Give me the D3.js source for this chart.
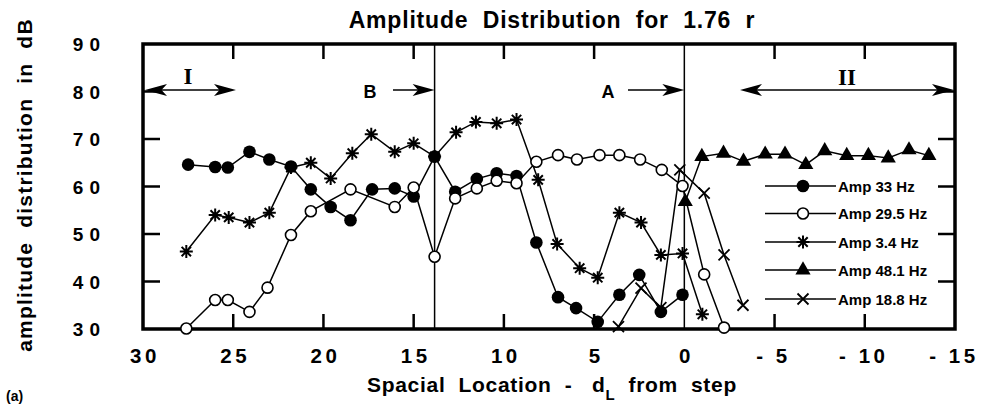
<!DOCTYPE html>
<html>
<head>
<meta charset="utf-8">
<title>Amplitude Distribution</title>
<script src="https://cdn.jsdelivr.net/npm/d3@7"></script>
<style>
    body{
        margin:0;
        background:#fff;
        font-family:"Liberation Sans", Arial, Helvetica, sans-serif;
    }
    text{
        white-space:pre;
    }
</style>
</head>
<body>
<div id="chart"></div>
<script>
// axis ticks
var xTicks = [30, 25, 20, 15, 10, 5, 0, -5, -10, -15]
var yTicks = [30, 40, 50, 60, 70, 80, 90]

// Amp 33 Hz (filled circles)
var d33 = [27.5, 26.0, 25.3, 24.1, 23.0, 21.8, 20.7, 19.6, 18.5, 17.3, 16.05, 15.0, 13.84, 12.7, 11.5, 10.4, 9.3, 8.2, 7.0, 6.0, 4.8, 3.6, 2.5, 1.3, 0.1]
var amp33 = [64.6, 64.1, 64.0, 67.3, 65.7, 64.2, 59.4, 55.7, 52.9, 59.4, 59.6, 57.9, 66.3, 58.9, 61.6, 62.8, 62.2, 48.2, 36.7, 34.4, 31.5, 37.2, 41.4, 33.6, 37.2]

// Amp 29.5 Hz (open circles)
var d29 = [27.6, 26.0, 25.3, 24.1, 23.1, 21.8, 20.7, 18.5, 16.05, 15.0, 13.84, 12.7, 11.5, 10.4, 9.3, 8.2, 7.0, 5.95, 4.7, 3.6, 2.45, 1.25, 0.1, -1.1, -2.2]
var amp29 = [30.1, 36.1, 36.1, 33.6, 38.7, 49.8, 54.8, 59.4, 55.7, 59.8, 45.2, 57.5, 59.6, 61.2, 60.7, 65.2, 66.6, 65.7, 66.6, 66.6, 65.7, 63.5, 60.1, 41.5, 30.3]

// Amp 3.4 Hz (asterisks)
var d3_4 = [27.6, 26.0, 25.25, 24.1, 23.0, 21.8, 20.7, 19.6, 18.4, 17.35, 16.05, 15.0, 13.84, 12.65, 11.55, 10.4, 9.3, 8.1, 7.05, 5.8, 4.8, 3.6, 2.4, 1.3, 0.1, -1.0]
var amp3_4 = [46.3, 54.0, 53.5, 52.4, 54.5, 64.0, 65.0, 61.7, 67.0, 71.0, 67.3, 69.1, 66.3, 71.4, 73.6, 73.3, 74.1, 61.4, 47.9, 42.8, 40.8, 54.5, 52.4, 45.6, 45.9, 33.1]

// Amp 48.1 Hz (triangles)
var d48 = [-0.05, -0.97, -2.17, -3.28, -4.48, -5.58, -6.73, -7.78, -9.0, -10.2, -11.3, -12.45, -13.55]
var amp48 = [56.8, 66.3, 67.0, 65.3, 66.8, 66.8, 64.6, 67.5, 66.5, 66.5, 66.0, 67.7, 66.5]

// Amp 18.8 Hz (crosses)
var d18 = [3.65, 2.4, 1.3, 0.25, -1.1, -2.2, -3.25]
var amp18 = [30.5, 38.6, 34.5, 63.5, 58.6, 45.6, 35.0]

var legendNames = ["Amp 33 Hz", "Amp 29.5 Hz", "Amp 3.4 Hz", "Amp 48.1 Hz", "Amp 18.8 Hz"]

var w = 981
var h = 408
var pLeft = 143, pRight = 955, pTop = 44, pBottom = 329

var svg = d3.select("#chart").append("svg")
    .attr("width", w)
    .attr("height", h)

var xScale = d3.scaleLinear().domain([30, -15]).range([pLeft, pRight])
var yScale = d3.scaleLinear().domain([30, 90]).range([pBottom, pTop])

// title
svg.append("text").text("Amplitude  Distribution  for  1.76  r")
    .attr("x", 552).attr("y", 28)
    .attr("text-anchor", "middle")
    .style("font-size", "23px").style("font-weight", "bold").style("letter-spacing", "0.8px")

// inner ticks (all four sides)
var xInner = xTicks.filter(function(t){ return t != 30 && t != -15 && t != 0 })
var yInner = yTicks.filter(function(t){ return t != 30 && t != 90 })

var tickLen = 15
svg.selectAll(".xtb").data(xInner).enter().append("line")
    .attr("x1", function(d){ return xScale(d) }).attr("x2", function(d){ return xScale(d) })
    .attr("y1", pBottom).attr("y2", pBottom - tickLen)
    .attr("stroke", "#000").attr("stroke-width", 2.5)
svg.selectAll(".xtt").data(xInner).enter().append("line")
    .attr("x1", function(d){ return xScale(d) }).attr("x2", function(d){ return xScale(d) })
    .attr("y1", pTop).attr("y2", pTop + tickLen)
    .attr("stroke", "#000").attr("stroke-width", 2.5)
svg.selectAll(".ytl").data(yInner).enter().append("line")
    .attr("y1", function(d){ return yScale(d) }).attr("y2", function(d){ return yScale(d) })
    .attr("x1", pLeft).attr("x2", pLeft + tickLen + 2)
    .attr("stroke", "#000").attr("stroke-width", 2.5)
svg.selectAll(".ytr").data(yInner).enter().append("line")
    .attr("y1", function(d){ return yScale(d) }).attr("y2", function(d){ return yScale(d) })
    .attr("x1", pRight).attr("x2", pRight - tickLen - 2)
    .attr("stroke", "#000").attr("stroke-width", 2.5)

// vertical marker lines at 13.84 and 0
svg.selectAll(".vline").data([13.84, 0]).enter().append("line")
    .attr("x1", function(d){ return xScale(d) }).attr("x2", function(d){ return xScale(d) })
    .attr("y1", pTop).attr("y2", pBottom)
    .attr("stroke", "#000").attr("stroke-width", 1.5)

// frame
svg.append("rect")
    .attr("x", pLeft).attr("y", pTop)
    .attr("width", pRight - pLeft).attr("height", pBottom - pTop)
    .attr("fill", "none").attr("stroke", "#000").attr("stroke-width", 3.5)

// tick labels
svg.selectAll(".xlab").data(xTicks).enter().append("text")
    .text(function(d){ return d < 0 ? "- " + (-d) : d })
    .attr("x", function(d){ return xScale(d) + (d < 0 ? -1 : 2) })
    .attr("y", 363)
    .attr("text-anchor", "middle")
    .style("font-size", "20.5px").style("font-weight", "bold").style("letter-spacing", "3.5px")

svg.selectAll(".ylab").data(yTicks).enter().append("text")
    .text(function(d){ return d })
    .attr("x", 106)
    .attr("y", function(d){ return yScale(d) + 7 })
    .attr("text-anchor", "end")
    .style("font-size", "19px").style("font-weight", "bold").style("letter-spacing", "6px")

// axis titles
svg.append("text")
    .attr("transform", "translate(32,185) rotate(-90)")
    .attr("text-anchor", "middle")
    .style("font-size", "21px").style("font-weight", "bold").style("letter-spacing", "1.2px")
    .text("amplitude  distribution  in  dB")

var xt = svg.append("text").attr("x", 367).attr("y", 392)
    .style("font-size", "21px").style("font-weight", "bold").style("letter-spacing", "0.7px")
xt.append("tspan").text("Spacial  Location  -   d")
xt.append("tspan").text("L").attr("dy", 8).style("font-size", "15px")
xt.append("tspan").text("  from  step").attr("dy", -8)

svg.append("text").text("(a)").attr("x", 6).attr("y", 401)
    .style("font-size", "14px").style("font-weight", "bold")

// region arrows
function arrowHead(x, y, dir){
    // dir = 1 points right, -1 points left
    var L = 22, H = 6
    return "M" + x + "," + y + "L" + (x - dir * L) + "," + (y - H) + "L" + (x - dir * L * 0.75) + "," + y + "L" + (x - dir * L) + "," + (y + H) + "Z"
}
var arrows = [
    {x1: pLeft + 2, x2: 236, y: 90, both: true},
    {x1: 393, x2: xScale(13.84), y: 90, both: false},
    {x1: 628, x2: xScale(0), y: 90, both: false},
    {x1: 740, x2: pRight - 1, y: 90, both: true}
]
arrows.forEach(function(a){
    svg.append("line").attr("x1", a.both ? a.x1 + 10 : a.x1).attr("x2", a.x2 - 10).attr("y1", a.y).attr("y2", a.y)
        .attr("stroke", "#000").attr("stroke-width", 1.5)
    svg.append("path").attr("d", arrowHead(a.x2, a.y, 1)).attr("fill", "#000")
    if (a.both) {
        svg.append("path").attr("d", arrowHead(a.x1, a.y, -1)).attr("fill", "#000")
    }
})
svg.append("text").text("I").attr("x", 188).attr("y", 84).attr("text-anchor", "middle")
    .style("font-family", "'Liberation Serif', 'Times New Roman', serif").style("font-size", "23px").style("font-weight", "bold")
svg.append("text").text("II").attr("x", 847).attr("y", 85).attr("text-anchor", "middle")
    .style("font-family", "'Liberation Serif', 'Times New Roman', serif").style("font-size", "23px").style("font-weight", "bold")
svg.append("text").text("B").attr("x", 370).attr("y", 98).attr("text-anchor", "middle")
    .style("font-size", "18px").style("font-weight", "bold")
svg.append("text").text("A").attr("x", 608).attr("y", 98).attr("text-anchor", "middle")
    .style("font-size", "18px").style("font-weight", "bold")

// markers
function starPath(s){
    var r = s, q = s * 0.72
    return "M" + (-r) + ",0L" + r + ",0M0," + (-r) + "L0," + r +
        "M" + (-q) + "," + (-q) + "L" + q + "," + q + "M" + (-q) + "," + q + "L" + q + "," + (-q)
}
function crossPath(s){
    return "M" + (-s) + "," + (-s) + "L" + s + "," + s + "M" + (-s) + "," + s + "L" + s + "," + (-s)
}
var triPath = d3.symbol().type(d3.symbolTriangle).size(100)()

var series = [
    {xs: d33, ys: amp33, kind: "filled"},
    {xs: d29, ys: amp29, kind: "open"},
    {xs: d3_4, ys: amp3_4, kind: "star"},
    {xs: d48, ys: amp48, kind: "tri"},
    {xs: d18, ys: amp18, kind: "cross"}
]

var line = d3.line()
    .x(function(d){ return xScale(d[0]) })
    .y(function(d){ return yScale(d[1]) })

function drawMarker(g, kind){
    if (kind == "filled") {
        g.append("circle").attr("r", 6.3).attr("fill", "#000")
    } else if (kind == "open") {
        g.append("circle").attr("r", 5.5).attr("fill", "#fff").attr("stroke", "#000").attr("stroke-width", 1.6)
    } else if (kind == "star") {
        g.append("path").attr("d", starPath(6.5)).attr("stroke", "#000").attr("stroke-width", 2).attr("fill", "none")
    } else if (kind == "tri") {
        g.append("path").attr("d", triPath).attr("fill", "#000")
    } else {
        g.append("path").attr("d", crossPath(5.5)).attr("stroke", "#000").attr("stroke-width", 1.8).attr("fill", "none")
    }
}

series.forEach(function(s){
    var pts = s.xs.map(function(x, i){ return [x, s.ys[i]] })
    svg.append("path").datum(pts)
        .attr("d", line)
        .attr("fill", "none").attr("stroke", "#000").attr("stroke-width", 1.5)
})
series.forEach(function(s){
    var pts = s.xs.map(function(x, i){ return [x, s.ys[i]] })
    svg.selectAll(null).data(pts).enter().append("g")
        .attr("transform", function(d){ return "translate(" + xScale(d[0]) + "," + yScale(d[1]) + ")" })
        .each(function(){ drawMarker(d3.select(this), s.kind) })
})

// legend
var legendY = [186, 213.5, 242, 270, 299]
legendNames.forEach(function(name, i){
    var g = svg.append("g").attr("transform", "translate(0," + legendY[i] + ")")
    g.append("line").attr("x1", 765).attr("x2", 836).attr("y1", 0).attr("y2", 0)
        .attr("stroke", "#000").attr("stroke-width", 1.5)
    var m = g.append("g").attr("transform", "translate(803,0)")
    drawMarker(m, series[i].kind)
    g.append("text").text(name).attr("x", 838).attr("y", 5.5)
        .style("font-size", "15px").style("font-weight", "bold")
})
</script>
</body>
</html>
